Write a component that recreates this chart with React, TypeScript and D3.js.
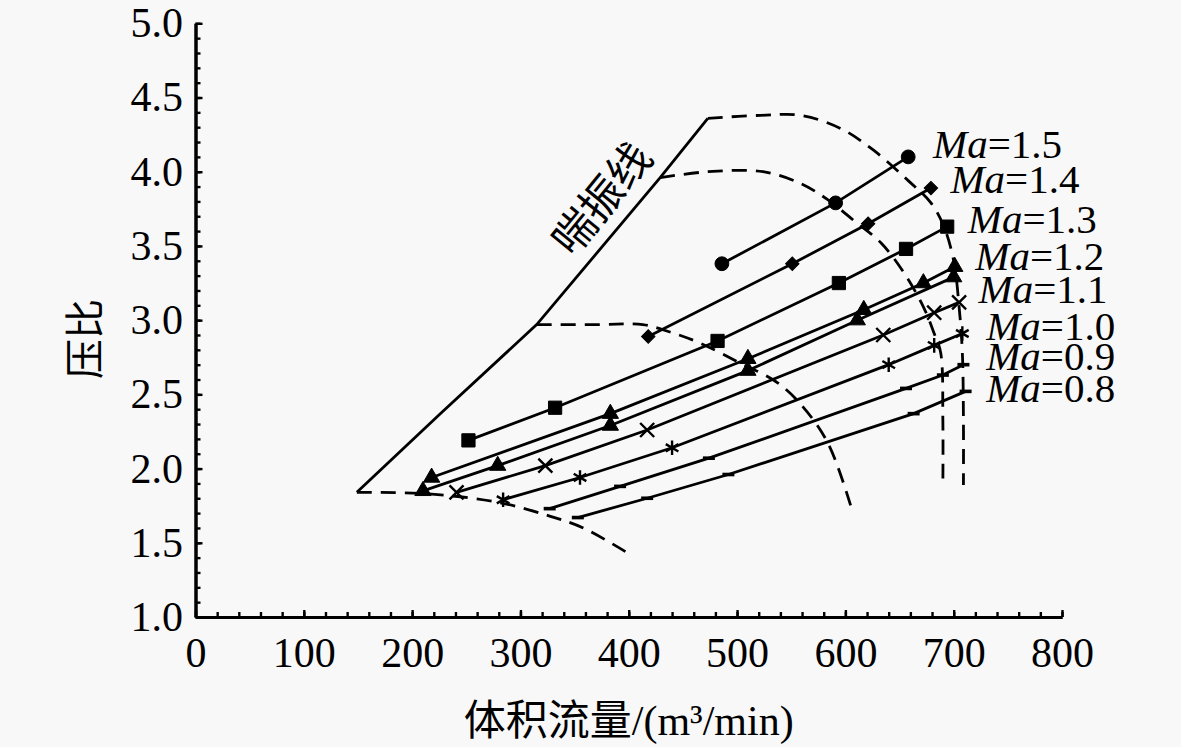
import { useEffect, useRef } from 'react';
import * as d3 from 'd3';

/**
 * Compressor map: pressure ratio vs. volume flow, speed lines Ma=0.8..1.5,
 * surge line and dashed efficiency/choke boundaries.
 */

type Pt = [number, number]; // [volume flow m3/min, pressure ratio]

const W = 1181;
const H = 747;

// speed lines
const ma15: Pt[] = [[486, 3.38], [591, 3.79], [658, 4.10]];
const ma14: Pt[] = [[418, 2.89], [551, 3.38], [621, 3.65], [679, 3.89]];
const ma13: Pt[] = [[252, 2.19], [332, 2.41], [482, 2.86], [594, 3.25], [656, 3.48], [694, 3.63]];
const ma12a: Pt[] = [[218, 1.94], [383, 2.37], [510, 2.74], [617, 3.07], [672, 3.25], [701, 3.36]];
const ma12b: Pt[] = [[210, 1.85], [279, 2.02], [383, 2.29], [510, 2.66], [611, 3.00], [700, 3.29]];
const ma11: Pt[] = [[241, 1.84], [323, 2.02], [417, 2.26], [635, 2.90], [682, 3.05], [705, 3.12]];
const ma10: Pt[] = [[284, 1.79], [355, 1.94], [440, 2.14], [640, 2.70], [682, 2.83], [708, 2.91]];
const ma09: Pt[] = [[327, 1.73], [392, 1.88], [474, 2.07], [656, 2.54], [690, 2.63], [709, 2.70]];
const ma08: Pt[] = [[353, 1.67], [417, 1.80], [492, 1.96], [663, 2.37], [711, 2.52]];

// boundaries
const surgeLine: Pt[] = [[149, 1.84], [226, 2.37], [315, 2.97], [429, 3.96], [473, 4.36]];
const lowerBound: Pt[] = [[149, 1.84], [214, 1.83], [281, 1.77], [327, 1.68], [358, 1.60], [397, 1.44]];
const innerBound: Pt[] = [
  [315, 2.97], [374, 2.97], [413, 2.97], [438, 2.92], [466, 2.845], [503, 2.71],
  [535, 2.59], [558, 2.44], [584, 2.17], [607, 1.70],
];
const midBound: Pt[] = [
  [429, 3.96], [473, 4.00], [524, 4.00], [559, 3.92], [584, 3.81], [608, 3.67], [633, 3.52],
  [654, 3.32], [672, 3.09], [682, 2.91], [688, 2.78], [690, 2.33], [690, 1.89],
];
const outerBound: Pt[] = [
  [473, 4.36], [522, 4.38], [559, 4.38], [596, 4.29], [626, 4.145], [658, 3.94], [679, 3.79],
  [691, 3.63], [700, 3.40], [705, 3.09], [708, 2.78], [709, 2.33], [709, 1.89],
];

// right-hand labels
const maLabels = ['1.5', '1.4', '1.3', '1.2', '1.1', '1.0', '0.9', '0.8'];
const maLabelFlow = [681, 697, 713, 720, 723, 730, 730, 730];
const maLabelRatio = [4.09, 3.855, 3.586, 3.337, 3.114, 2.865, 2.663, 2.448];

const xTicks = d3.range(0, 801, 100);
const yTicks = d3.range(1, 5.01, 0.5);
const xMinor = d3.range(0, 801, 20);
const yMinor = d3.range(1, 5.001, 0.1);

const xTitle = '体积流量/(m³/min)';
const yTitle = '压比';
const surgeLabel = '喘振线';

const SERIF = "'Times New Roman', 'Liberation Serif', 'Noto Sans CJK SC', serif";

export default function App() {
  const svgRef = useRef<SVGSVGElement>(null);

  useEffect(() => {
    if (!svgRef.current) return;
    const svg = d3.select(svgRef.current);
    svg.selectAll('*').remove();

    const x = d3.scaleLinear().domain([0, 800]).range([195.5, 1062]);
    const y = d3.scaleLinear().domain([1, 5]).range([617, 23.3]);

    svg.append('rect').attr('width', W).attr('height', H).attr('fill', '#f8f8f8');

    // ---- axes (ticks pointing inward) ----
    const gxMinor = svg.append('g')
      .attr('transform', `translate(0,${y(1)})`)
      .call(d3.axisBottom(x).tickValues(xMinor).tickSizeInner(-5).tickSizeOuter(0).tickFormat(() => ''));
    const gyMinor = svg.append('g')
      .attr('transform', `translate(${x(0)},0)`)
      .call(d3.axisLeft(y).tickValues(yMinor).tickSizeInner(-5).tickSizeOuter(0).tickFormat(() => ''));

    const gx = svg.append('g')
      .attr('transform', `translate(0,${y(1)})`)
      .call(d3.axisBottom(x).tickValues(xTicks).tickSizeInner(-7).tickSizeOuter(0).tickPadding(20)
        .tickFormat((d) => String(d)));
    const gy = svg.append('g')
      .attr('transform', `translate(${x(0)},0)`)
      .call(d3.axisLeft(y).tickValues(yTicks).tickSizeInner(-7).tickSizeOuter(0).tickPadding(12.5)
        .tickFormat((d) => (+d).toFixed(1)));

    [gxMinor, gyMinor, gx, gy].forEach((g) => {
      g.attr('font-size', 42).attr('font-family', SERIF);
      g.selectAll('.domain').attr('stroke', '#000').attr('stroke-width', 3);
      g.selectAll('.tick line').attr('stroke', '#000').attr('stroke-width', 2.4);
      g.selectAll('.tick text').attr('fill', '#000');
    });

    // ---- boundaries ----
    const line = d3.line<Pt>().x((d) => x(d[0])).y((d) => y(d[1]));
    const smooth = d3.line<Pt>().x((d) => x(d[0])).y((d) => y(d[1])).curve(d3.curveCatmullRom.alpha(0.5));

    svg.append('path')
      .datum(surgeLine)
      .attr('d', line)
      .attr('fill', 'none')
      .attr('stroke', '#000')
      .attr('stroke-width', 2.8);

    [lowerBound, innerBound, midBound, outerBound].forEach((b) => {
      svg.append('path')
        .datum(b)
        .attr('d', smooth)
        .attr('fill', 'none')
        .attr('stroke', '#000')
        .attr('stroke-width', 2.8)
        .attr('stroke-dasharray', '15,9');
    });

    // ---- speed lines with markers ----
    const speedLines = [
      { pts: ma15, marker: 'circle' },
      { pts: ma14, marker: 'diamond' },
      { pts: ma13, marker: 'square' },
      { pts: ma12a, marker: 'triangle' },
      { pts: ma12b, marker: 'triangle' },
      { pts: ma11, marker: 'times' },
      { pts: ma10, marker: 'asterisk' },
      { pts: ma09, marker: 'dash' },
      { pts: ma08, marker: 'dash' },
    ];

    const sym = (type: d3.SymbolType, size: number) => d3.symbol(type, size)() || '';
    const anyD3 = d3 as any;
    const markerShape: Record<string, { d: string; filled: boolean; rot?: number; sw?: number }> = {
      circle: { d: sym(d3.symbolCircle, 150), filled: true },
      diamond: { d: sym(d3.symbolSquare, 90), filled: true, rot: 45 },
      square: { d: sym(d3.symbolSquare, 175), filled: true },
      triangle: { d: sym(d3.symbolTriangle, 115), filled: true },
      times: { d: sym(anyD3.symbolTimes || d3.symbolCross, 130), filled: false, sw: 2.4 },
      asterisk: { d: sym(anyD3.symbolAsterisk || d3.symbolStar, 150), filled: false, sw: 2.4 },
      dash: { d: 'M-6,0H6', filled: false, sw: 3.6 },
    };

    speedLines.forEach((s) => {
      svg.append('path')
        .datum(s.pts)
        .attr('d', line)
        .attr('fill', 'none')
        .attr('stroke', '#000')
        .attr('stroke-width', 2.8);

      const m = markerShape[s.marker];
      svg.append('g')
        .selectAll('path')
        .data(s.pts)
        .enter()
        .append('path')
        .attr('d', m.d)
        .attr('transform', (d) => `translate(${x(d[0])},${y(d[1])})${m.rot ? ` rotate(${m.rot})` : ''}`)
        .attr('fill', m.filled ? '#000' : 'none')
        .attr('stroke', '#000')
        .attr('stroke-width', m.filled ? 1 : m.sw || 2);
    });

    // ---- Ma labels ----
    maLabels.forEach((lab, i) => {
      const t = svg.append('text')
        .attr('x', x(maLabelFlow[i]))
        .attr('y', y(maLabelRatio[i]))
        .attr('font-size', 41)
        .attr('font-family', SERIF)
        .attr('fill', '#000');
      t.append('tspan').attr('font-style', 'italic').text('Ma');
      t.append('tspan').text('=' + lab);
    });

    // ---- surge line label ----
    svg.append('text')
      .attr('transform', `translate(${x(375)},${y(3.82)}) rotate(-50.6)`)
      .attr('text-anchor', 'middle')
      .attr('dy', '0.36em')
      .attr('font-size', 43)
      .attr('font-family', SERIF)
      .attr('fill', '#000')
      .text(surgeLabel);

    // ---- axis titles ----
    svg.append('text')
      .attr('x', (x(0) + x(800)) / 2)
      .attr('y', 735)
      .attr('text-anchor', 'middle')
      .attr('font-size', 42)
      .attr('font-family', SERIF)
      .attr('fill', '#000')
      .text(xTitle);

    svg.append('text')
      .attr('transform', 'translate(85,339) rotate(-90)')
      .attr('text-anchor', 'middle')
      .attr('dy', '0.36em')
      .attr('font-size', 40)
      .attr('font-family', SERIF)
      .attr('fill', '#000')
      .text(yTitle);
  }, []);

  return (
    <svg
      ref={svgRef}
      width={W}
      height={H}
      style={{ position: 'absolute', left: 0, top: 0, display: 'block' }}
      role="img"
      aria-label="压比-体积流量 特性曲线"
    />
  );
}
